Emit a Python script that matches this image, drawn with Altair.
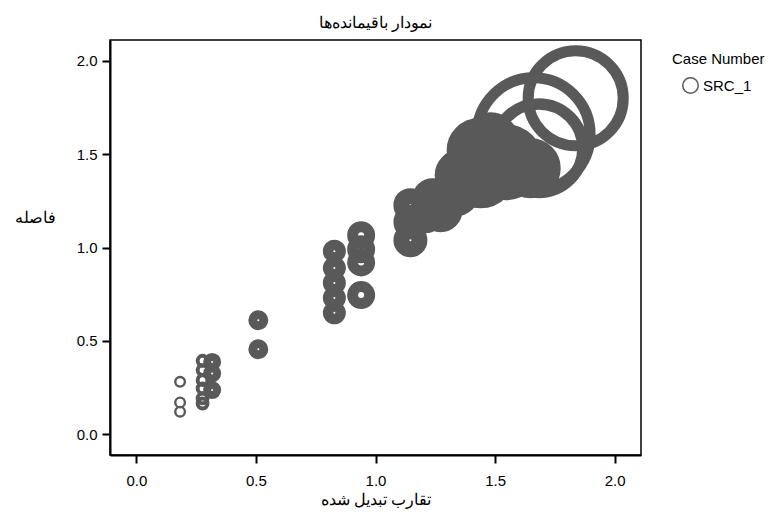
import altair as alt
import pandas as pd

# Transformed proximities (x), distances (y) and bubble value (w)
x_vals = [0.183, 0.183, 0.183,
          0.277, 0.277, 0.277, 0.277, 0.277, 0.277,
          0.317, 0.317, 0.317,
          0.51, 0.51,
          0.828, 0.828, 0.828, 0.828, 0.828,
          0.94, 0.94, 0.94, 0.94,
          1.661, 1.837, 1.682,
          1.146, 1.146, 1.146, 1.209, 1.238, 1.272, 1.335, 1.305, 1.356,
          1.439, 1.431, 1.448, 1.544, 1.556, 1.544, 1.649, 1.640,
          1.431, 1.481, 1.490]
y_vals = [0.28, 0.17, 0.12,
          0.393, 0.343, 0.289, 0.245, 0.191, 0.164,
          0.387, 0.325, 0.236,
          0.61, 0.455,
          0.98, 0.89, 0.81, 0.73, 0.65,
          1.066, 0.99, 0.92, 0.745,
          1.607, 1.80, 1.532,
          1.039, 1.136, 1.227, 1.173, 1.264, 1.200, 1.296, 1.350, 1.387,
          1.403, 1.425, 1.387, 1.457, 1.441, 1.468, 1.425, 1.435,
          1.521, 1.575, 1.575]
w_vals = [4.8, 4.8, 4.8,
          4.9, 4.9, 4.9, 4.9, 4.9, 4.9,
          5.0, 5.0, 5.0,
          5.5, 5.5,
          6.25, 6.25, 6.25, 6.25, 6.25,
          8.5, 8.5, 8.5, 8.5,
          56.5, 47.5, 44.3,
          9.0, 9.0, 9.0, 9.63, 10.9, 12.1, 13.4, 8.5, 15.0,
          26.7, 14.0, 8.5, 29.3, 16.0, 8.7, 19.0, 9.63,
          21.3, 17.0, 8.8]
x_ticks = [0.0, 0.5, 1.0, 1.5, 2.0]
y_ticks = [0.0, 0.5, 1.0, 1.5, 2.0]

df = pd.DataFrame({"x": x_vals, "y": y_vals, "w": w_vals, "case": ["SRC_1"] * len(x_vals)})

W, H = 531, 415

points = alt.Chart(df).mark_point(filled=False, shape="circle", opacity=1).encode(
    x=alt.X("x:Q", scale=alt.Scale(domain=[-0.11, 2.11], nice=False, zero=False),
            axis=alt.Axis(values=x_ticks, format=".1f", title="تقارب تبدیل شده",
                          titleY=44, titleBaseline="middle")),
    y=alt.Y("y:Q", scale=alt.Scale(domain=[-0.112, 2.112], nice=False, zero=False),
            axis=alt.Axis(values=y_ticks, format=".1f", title="فاصله",
                          titleAngle=0, titleX=-75, titleY=177, titleAlign="center",
                          titleBaseline="middle")),
    size=alt.Size("w:Q", scale=alt.Scale(type="pow", exponent=2, domain=[0, 60],
                                         range=[0, 14400]), legend=None),
    strokeWidth=alt.StrokeWidth("w:Q", scale=alt.Scale(
        domain=[4.8, 4.9, 5.0, 5.5, 6.25, 8.5, 9, 14, 20, 40, 48],
        range=[2.4, 4, 8, 9, 10.5, 11, 16, 22, 22, 12, 11], clamp=True), legend=None),
    color=alt.Color("case:N", scale=alt.Scale(range=["#595959"]),
                    legend=alt.Legend(title="Case Number", orient="none", legendX=562, legendY=12,
                                      symbolType="circle", symbolFillColor="transparent",
                                      symbolStrokeColor="#666666", symbolStrokeWidth=1.5,
                                      symbolSize=240, symbolOffset=10,
                                      titleFont="Liberation Sans", titleFontSize=15,
                                      titleFontWeight="normal", titleColor="#000000",
                                      labelFont="Liberation Sans", labelFontSize=15,
                                      labelColor="#000000", titlePadding=10)),
)

chart = points.properties(
    width=W, height=H,
    title=alt.TitleParams("نمودار باقیمانده‌ها", font="Liberation Serif", fontSize=16,
                          fontWeight="normal", color="#000000", offset=6, dy=8),
    autosize=alt.AutoSizeParams(type="none"),
    padding={"left": 102, "top": 32, "right": 135, "bottom": 56},
).configure_view(
    stroke="#000000", strokeWidth=1.5
).configure_axis(
    grid=False, domainColor="#000000", domainWidth=2, tickColor="#000000", tickWidth=2,
    tickSize=8, labelFont="Liberation Sans", labelFontSize=15, labelColor="#000000",
    titleFont="Liberation Serif", titleFontSize=16, titleFontWeight="normal", titleColor="#000000",
).configure_axisX(labelPadding=10).configure_axisY(labelPadding=5)

chart.save("out.html", embed_options={"renderer": "svg", "actions": False})
